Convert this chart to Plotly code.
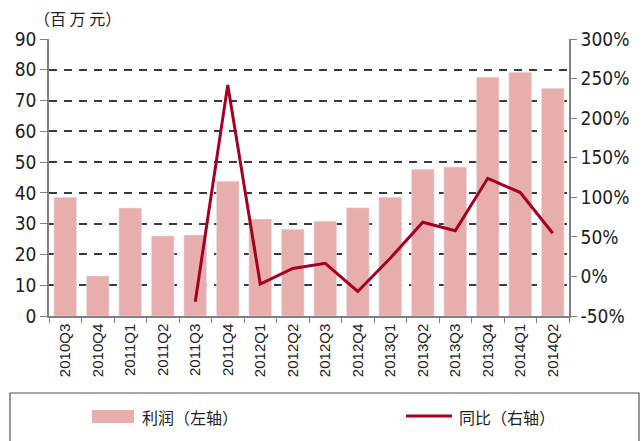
import plotly.graph_objects as go

categories = ["2010Q3", "2010Q4", "2011Q1", "2011Q2", "2011Q3", "2011Q4",
              "2012Q1", "2012Q2", "2012Q3", "2012Q4", "2013Q1", "2013Q2",
              "2013Q3", "2013Q4", "2014Q1", "2014Q2"]
profit = [38.6, 13.0, 35.1, 26.0, 26.3, 43.8, 31.5, 28.2, 30.8, 35.2,
          38.6, 47.7, 48.4, 77.6, 79.2, 74.0]
yoy = [None, None, None, None, -32, 242, -9.6, 10, 16.5, -19,
       23, 68.4, 57.8, 124, 106, 54.5]
left_ticks = [0, 10, 20, 30, 40, 50, 60, 70, 80, 90]
right_ticks = [-50, 0, 50, 100, 150, 200, 250, 300]
right_labels = ["-50%", "0%", "50%", "100%", "150%", "200%", "250%", "300%"]

bar_color = "#E8AEAD"
line_color = "#A50021"
num_font = "DejaVu Sans Condensed, Liberation Sans Narrow, Liberation Sans"
cjk_font = "Noto Sans CJK SC"

fig = go.Figure()
fig.add_trace(go.Bar(x=categories, y=profit, marker_color=bar_color,
                     name="利润（左轴）", showlegend=False))
fig.add_trace(go.Scatter(x=categories, y=yoy, yaxis="y2", mode="lines",
                         line=dict(color=line_color, width=3),
                         name="同比（右轴）", showlegend=False))

fig.update_layout(
    width=643, height=441,
    margin=dict(l=49, r=74, t=39, b=125),
    plot_bgcolor="white", paper_bgcolor="white",
    bargap=0.3,
    xaxis=dict(type="category", tickangle=-90, showline=True, linecolor="#808080",
               linewidth=1.5, ticks="outside", ticklen=5, tickcolor="#808080",
               tickson="boundaries", showgrid=False, automargin=False,
               tickfont=dict(family="Liberation Sans, Arial", size=15, color="#222")),
    yaxis=dict(range=[0, 90], tickvals=left_ticks, showline=True, linecolor="#808080",
               linewidth=1.5, ticks="outside", ticklen=7, tickcolor="#808080",
               showgrid=True, gridcolor="#3a3a3a", griddash="8px,7px", gridwidth=1.5,
               zeroline=False, automargin=False,
               tickfont=dict(family=num_font, size=19, color="#222")),
    yaxis2=dict(range=[-50, 300], tickvals=right_ticks, ticktext=right_labels,
                overlaying="y", side="right", showline=True, linecolor="#808080",
                linewidth=1.5, ticks="outside", ticklen=6, tickcolor="#808080",
                showgrid=False, zeroline=False, automargin=False,
                tickfont=dict(family=num_font, size=19, color="#222")),
)

def px(x):
    return (x - 49) / 520

def py(y):
    return (316 - y) / 277

fig.add_annotation(text="（百 万 元）", xref="paper", yref="paper",
                   x=px(32), y=py(18), xanchor="left", yanchor="middle",
                   showarrow=False, font=dict(family=cjk_font, size=16, color="#222"))

# legend box
fig.add_shape(type="rect", xref="paper", yref="paper",
              x0=px(10), x1=px(639), y0=py(393), y1=py(445),
              line=dict(color="#555", width=1.2), fillcolor="rgba(0,0,0,0)")
fig.add_shape(type="rect", xref="paper", yref="paper",
              x0=px(92), x1=px(134), y0=py(410), y1=py(423),
              line=dict(width=0), fillcolor=bar_color)
fig.add_annotation(text="利润（左轴）", xref="paper", yref="paper",
                   x=px(140), y=py(417), xanchor="left", yanchor="middle",
                   showarrow=False, font=dict(family=cjk_font, size=16, color="#222"))
fig.add_shape(type="line", xref="paper", yref="paper",
              x0=px(406), x1=px(452), y0=py(416), y1=py(416),
              line=dict(color=line_color, width=3))
fig.add_annotation(text="同比（右轴）", xref="paper", yref="paper",
                   x=px(457), y=py(417), xanchor="left", yanchor="middle",
                   showarrow=False, font=dict(family=cjk_font, size=16, color="#222"))

fig.write_html("out.html", config={"displayModeBar": False},
               post_script="document.body.style.margin='0px';document.body.style.overflow='hidden';")
